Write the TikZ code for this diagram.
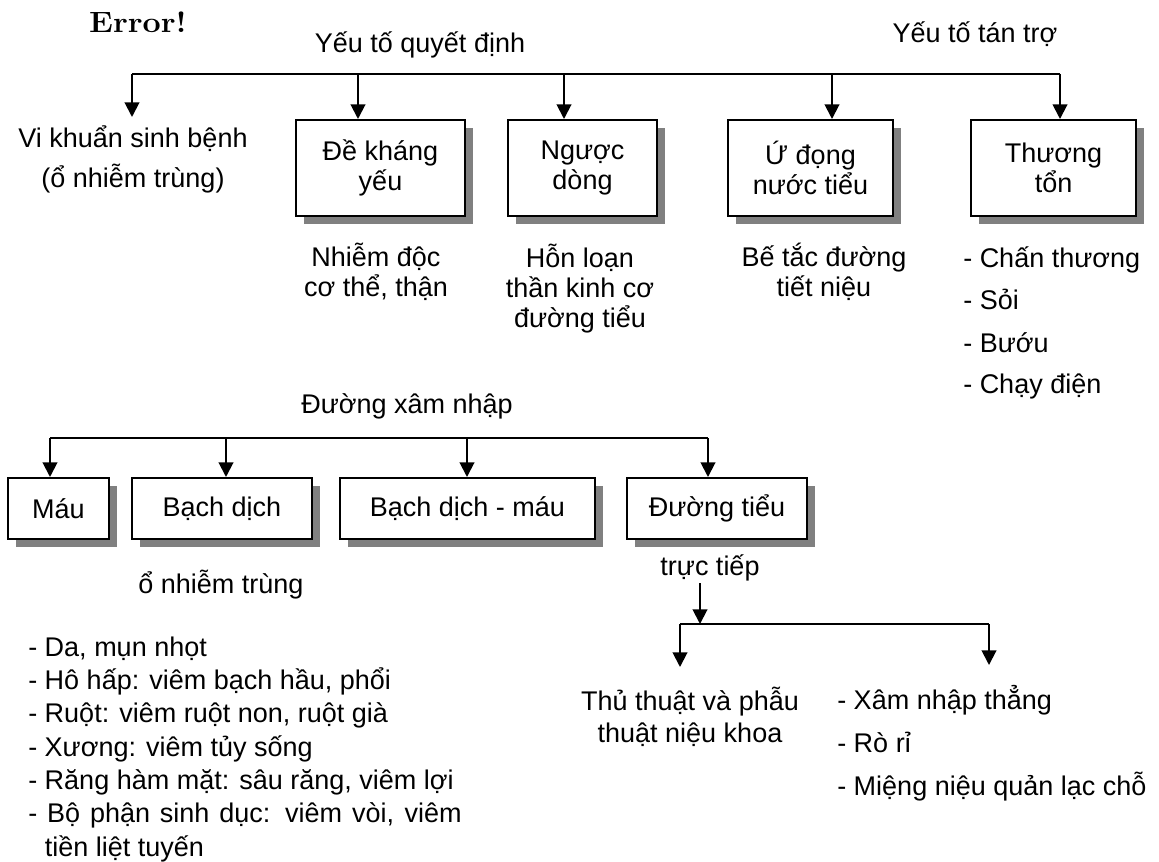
\documentclass[tikz,border=0pt]{standalone}
\usepackage{fontspec}
\newfontfamily\arial{Liberation Sans}
\usetikzlibrary{positioning,arrows.meta,shadows}

\begin{document}
\begin{tikzpicture}[x=0.75pt,y=-0.75pt,font=\arial\fontsize{20.25}{22.5}\selectfont,
    box node/.style={draw,line width=1.5pt,fill=white,inner sep=0pt,align=center,
        drop shadow={shadow xshift=6pt,shadow yshift=-6pt,opacity=1,fill=black!50}},
    text node/.style={inner sep=0pt,align=center,anchor=base},
    list node/.style={inner sep=0pt,align=left,anchor=base west},
    bus/.style={line width=1.5pt},
    arr/.style={line width=1.5pt,-{Triangle[width=11pt,length=11pt]}}]

    \useasboundingbox (0,0) rectangle (1159,862);

		% texts are placed at the baseline of their last line
		\node[text node][font=\rmfamily\bfseries\fontsize{22}{24}\selectfont][xscale=1.1](err) at (138,33){Error!};
		\node[text node](qd) at (420,53){Yếu tố quyết định};
		\node[text node](ttr) at (975,43){Yếu tố tán trợ};

		\node[text node][font=\arial\fontsize{20.25}{30}\selectfont](vk) at (133,188){Vi khuẩn sinh bệnh\\(ổ nhiễm trùng)};
		\node[box node][minimum width=126.75pt,minimum height=72pt](dk) at (380.5,168){Đề kháng\\yếu};
		\node[box node][minimum width=111.75pt,minimum height=72pt](nd) at (582.5,168){Ngược\\dòng};
		\node[box node][minimum width=123.75pt,minimum height=72pt](ud) at (810.5,168){Ứ đọng\\nước tiểu};
		\node[box node][minimum width=123.75pt,minimum height=72pt](tt) at (1053.5,168){Thương\\tổn};

		\node[text node](nhd) at (376,297){Nhiễm độc\\cơ thể, thận};
		\node[text node](hl) at (580,328){Hỗn loạn\\thần kinh cơ\\đường tiểu};
		\node[text node](bt) at (824,297){Bế tắc đường\\tiết niệu};
		\node[list node][font=\arial\fontsize{20.25}{31.5}\selectfont](ct) at (963,394){- Chấn thương\\- Sỏi\\- Bướu\\- Chạy điện};

		\node[text node](dxn) at (407,413){Đường xâm nhập};
		\node[box node][minimum width=75.75pt,minimum height=45.75pt](mau) at (58.5,508.5){Máu};
		\node[box node][minimum width=135pt,minimum height=45.75pt](bd) at (222,508.5){Bạch dịch};
		\node[box node][minimum width=191.25pt,minimum height=45.75pt](bdm) at (467.5,508.5){Bạch dịch - máu};
		\node[box node][minimum width=135pt,minimum height=45.75pt](dt) at (717,508.5){Đường tiểu};

		\node[text node](onh) at (221,593){ổ nhiễm trùng};
		\node[list node][font=\arial\fontsize{20.25}{25}\selectfont](ds) at (28,856){- Da, mụn nhọt\\- Hô hấp: viêm bạch hầu, phổi\\- Ruột: viêm ruột non, ruột già\\- Xương: viêm tủy sống\\- Răng hàm mặt: sâu răng, viêm lợi\\\makebox[325pt][s]{- Bộ phận sinh dục: viêm vòi, viêm}\\\phantom{- }tiền liệt tuyến};

		\node[text node](tr) at (710,575){trực tiếp};
		\node[text node][font=\arial\fontsize{20.25}{24}\selectfont](thu) at (690,742){Thủ thuật và phẫu\\thuật niệu khoa};
		\node[list node][font=\arial\fontsize{20.25}{32}\selectfont](xn) at (837,795){- Xâm nhập thẳng\\- Rò rỉ\\- Miệng niệu quản lạc chỗ};

		\coordinate (q0) at (132,74);
		\coordinate (q1) at (358,74);
		\coordinate (q2) at (564,74);
		\coordinate (q3) at (832,74);
		\coordinate (q4) at (1060,74);
		\coordinate (vkt) at (132,117);
		\coordinate (r0) at (50,438);
		\coordinate (r1) at (226,438);
		\coordinate (r2) at (467,438);
		\coordinate (r3) at (708,438);
		\coordinate (s0) at (700,583);
		\coordinate (s1) at (700,624);
		\coordinate (u0) at (680,624);
		\coordinate (u1) at (989,624);
		\coordinate (v0) at (680,667);
		\coordinate (v1) at (989,665);

		\path [bus] (q0) edge (q4);
		\path [arr] (q0) edge (vkt);
		\path [arr] (q1) edge (q1 |- dk.north);
		\path [arr] (q2) edge (q2 |- nd.north);
		\path [arr] (q3) edge (q3 |- ud.north);
		\path [arr] (q4) edge (q4 |- tt.north);

		\path [bus] (r0) edge (r3);
		\path [arr] (r0) edge (r0 |- mau.north);
		\path [arr] (r1) edge (r1 |- bd.north);
		\path [arr] (r2) edge (r2 |- bdm.north);
		\path [arr] (r3) edge (r3 |- dt.north);

		\path [arr] (s0) edge (s1);
		\path [bus] (u0) edge (u1);
		\path [arr] (u0) edge (v0);
		\path [arr] (u1) edge (v1);

	\end{tikzpicture}
\end{document}
